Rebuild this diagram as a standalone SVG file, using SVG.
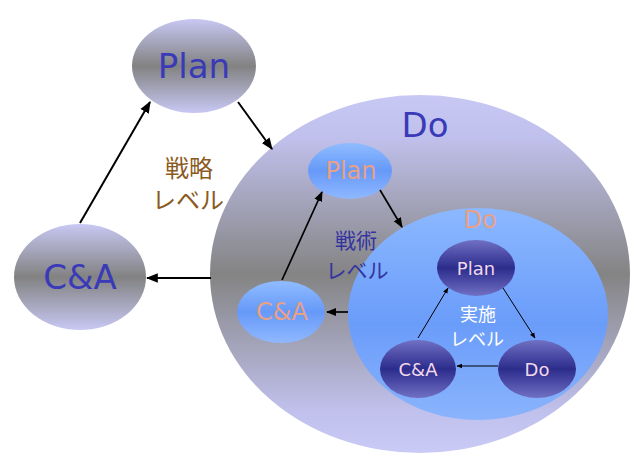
<svg xmlns="http://www.w3.org/2000/svg" width="634" height="457" viewBox="0 0 634 457">
<defs>
<linearGradient id="gGray" x1="0" y1="0" x2="0" y2="1">
<stop offset="0" stop-color="#c8c8f4"/>
<stop offset="0.5" stop-color="#828282"/>
<stop offset="1" stop-color="#c8c8f4"/>
</linearGradient>
<linearGradient id="gBig" x1="0" y1="0" x2="0" y2="1">
<stop offset="0" stop-color="#c8c8f4"/>
<stop offset="0.12" stop-color="#c0c0ec"/>
<stop offset="0.5" stop-color="#848484"/>
<stop offset="0.88" stop-color="#c0c0ec"/>
<stop offset="1" stop-color="#cacaf6"/>
</linearGradient>
<linearGradient id="gBlue" x1="0" y1="0" x2="0" y2="1">
<stop offset="0" stop-color="#90bcff"/>
<stop offset="0.5" stop-color="#6699f8"/>
<stop offset="1" stop-color="#90b8ff"/>
</linearGradient>
<linearGradient id="gBlueIn" x1="0" y1="0" x2="0" y2="1">
<stop offset="0" stop-color="#8cb8ff"/>
<stop offset="0.55" stop-color="#6a9cfa"/>
<stop offset="1" stop-color="#8ab4fc"/>
</linearGradient>
<linearGradient id="gDark" x1="0" y1="0" x2="0" y2="1">
<stop offset="0" stop-color="#7070c4"/>
<stop offset="0.5" stop-color="#2c2c8c"/>
<stop offset="1" stop-color="#7070c4"/>
</linearGradient>
<marker id="ahs" viewBox="0 0 10 10" refX="9" refY="5" markerWidth="6" markerHeight="6" orient="auto" markerUnits="strokeWidth">
<path d="M0,1 L10,5 L0,9 z" fill="#000"/>
</marker>
</defs>
<style>
text{font-family:"Liberation Sans","Noto Sans CJK JP",sans-serif;text-anchor:middle;dominant-baseline:central}
.big{font-family:Verdana,"DejaVu Sans",sans-serif;font-size:34px;fill:#3a3ab8}
.mid{font-family:Verdana,"DejaVu Sans",sans-serif;font-size:24px;fill:#e8a086}
.sm{font-family:Verdana,"DejaVu Sans",sans-serif;font-size:18px;fill:#f2d8ec}
.c{stroke:#000;fill:none}
</style>
<rect width="634" height="457" fill="#fff"/>

<g id="do-big">
<ellipse cx="420" cy="274" rx="210" ry="179" fill="url(#gBig)"/>
<text class="big" x="425" y="125">Do</text>
</g>
<g id="plan-top">
<ellipse cx="194" cy="66" rx="62" ry="47" fill="url(#gGray)"/>
<text class="big" x="194" y="66">Plan</text>
</g>
<g id="ca-left">
<ellipse cx="80" cy="277" rx="66" ry="53" fill="url(#gGray)"/>
<text class="big" x="80" y="277">C&amp;A</text>
</g>
<g id="label-strategy">
<text x="189" y="168" font-size="24" fill="#8a5a1e">戦略</text>
<text x="188" y="200" font-size="24" fill="#8a5a1e">レベル</text>
</g>

<g id="do-mid">
<ellipse cx="478" cy="314" rx="130" ry="106" fill="url(#gBlueIn)"/>
<text class="mid" x="480" y="220" font-size="27">Do</text>
</g>
<g id="plan-mid">
<ellipse cx="350" cy="171" rx="42" ry="28" fill="url(#gBlue)"/>
<text class="mid" x="351" y="171">Plan</text>
</g>
<g id="ca-mid">
<ellipse cx="281" cy="312" rx="44" ry="31" fill="url(#gBlue)"/>
<text class="mid" x="282" y="312">C&amp;A</text>
</g>
<g id="label-tactics">
<text x="356" y="240" font-size="21" fill="#3434a0">戦術</text>
<text x="357" y="270" font-size="21" fill="#3434a0">レベル</text>
</g>

<g id="plan-in">
<ellipse cx="476" cy="268" rx="39" ry="28" fill="url(#gDark)"/>
<text class="sm" x="476" y="268">Plan</text>
</g>
<g id="ca-in">
<ellipse cx="418" cy="369" rx="38" ry="29" fill="url(#gDark)"/>
<text class="sm" x="418" y="369">C&amp;A</text>
</g>
<g id="do-in">
<ellipse cx="537" cy="369" rx="39" ry="29" fill="url(#gDark)"/>
<text class="sm" x="537" y="369">Do</text>
</g>
<g id="label-exec">
<text x="478" y="315" font-size="18" fill="#ffffff">実施</text>
<text x="477" y="340" font-size="18" fill="#ffffff">レベル</text>
</g>

<g id="connectors">
<line class="c" stroke-width="2" x1="238" y1="102" x2="272" y2="149" marker-end="url(#ahs)"/>
<line class="c" stroke-width="2" x1="211" y1="278" x2="147" y2="278" marker-end="url(#ahs)"/>
<line class="c" stroke-width="2" x1="80" y1="223" x2="150" y2="102" marker-end="url(#ahs)"/>
<line class="c" stroke-width="1.7" x1="380" y1="190" x2="402" y2="227" marker-end="url(#ahs)"/>
<line class="c" stroke-width="1.7" x1="348" y1="312" x2="327" y2="312" marker-end="url(#ahs)"/>
<line class="c" stroke-width="1.7" x1="282" y1="280" x2="322" y2="192" marker-end="url(#ahs)"/>
<line class="c" stroke-width="1" x1="503" y1="288" x2="535" y2="338" marker-end="url(#ahs)"/>
<line class="c" stroke-width="1" x1="498" y1="366" x2="457" y2="366" marker-end="url(#ahs)"/>
<line class="c" stroke-width="1" x1="418" y1="338" x2="448" y2="288" marker-end="url(#ahs)"/>
</g>
</svg>
